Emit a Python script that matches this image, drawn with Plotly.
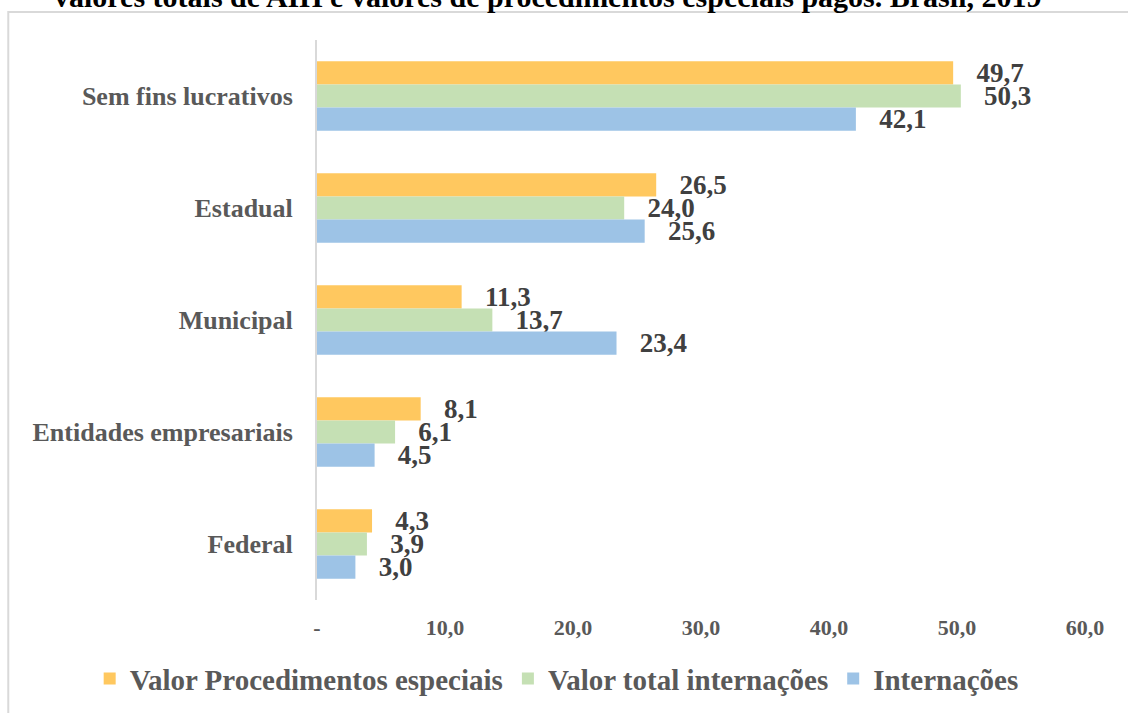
import plotly.graph_objects as go

categories = ["Sem fins lucrativos", "Estadual", "Municipal", "Entidades empresariais", "Federal"]
series_names = ["Valor Procedimentos especiais", "Valor total internações", "Internações"]
proc_especiais = [49.7, 26.5, 11.3, 8.1, 4.3]
valor_total = [50.3, 24.0, 13.7, 6.1, 3.9]
internacoes = [42.1, 25.6, 23.4, 4.5, 3.0]
tick_values = [0, 10, 20, 30, 40, 50, 60]
tick_labels = ["-", "10,0", "20,0", "30,0", "40,0", "50,0", "60,0"]
colors = ["#FFC85F", "#C5E0B4", "#9DC3E6"]

FONT = "Liberation Serif, Times New Roman, serif"


def fmt(v):
    return "\u00a0\u00a0\u00a0" + f"{v:.1f}".replace(".", ",")


fig = go.Figure()
for name, vals, col in zip(series_names, [proc_especiais, valor_total, internacoes], colors):
    fig.add_trace(go.Bar(
        y=categories, x=vals, name=name, orientation="h",
        marker=dict(color=col, line=dict(width=0)),
        text=[fmt(v) for v in vals], textposition="outside",
        textfont=dict(family=FONT, size=27, color="#404040", weight="bold"),
        cliponaxis=False, constraintext="none", hoverinfo="skip",
    ))

fig.update_layout(
    width=1128, height=713,
    barmode="group", bargap=0.38, bargroupgap=0,
    plot_bgcolor="white", paper_bgcolor="white",
    margin=dict(l=317, r=43, t=40, b=113, autoexpand=False),
    font=dict(family=FONT, size=24, color="#595959"),
    showlegend=True,
    legend=dict(orientation="h", x=-0.296, xanchor="left", y=-0.095, yanchor="top",
                font=dict(family=FONT, size=29, color="#595959", weight="bold"),
                itemwidth=30, traceorder="normal", itemclick=False),
    xaxis=dict(range=[0, 60], tickvals=tick_values, ticktext=tick_labels, automargin=False,
               showgrid=False, zeroline=False, showline=False, ticks="", ticklabelstandoff=12,
               tickfont=dict(family=FONT, size=22, color="#595959", weight="bold")),
    yaxis=dict(autorange="reversed", showgrid=False, showline=True, linecolor="#D9D9D9",
               linewidth=2, ticks="", ticklabelstandoff=17, automargin=False,
               tickfont=dict(family=FONT, size=26, color="#595959", weight="bold")),
    shapes=[dict(type="rect", xref="paper", yref="paper", x0=-0.402, x1=1.2, y0=-0.4, y1=1.05,
                 line=dict(color="#D9D9D9", width=2), fillcolor="rgba(0,0,0,0)", layer="below")],
    annotations=[dict(text="valores totais de AIH e valores de procedimentos especiais pagos. Brasil, 2019",
                      xref="paper", yref="paper", x=0.30, y=1.045, xanchor="center", yanchor="bottom",
                      showarrow=False, font=dict(family=FONT, size=30, color="black", weight="bold"))],
)

fig.write_html("out.html", config={"displayModeBar": False, "staticPlot": True},
               post_script="document.body.style.margin='0';document.body.style.overflow='hidden';")
